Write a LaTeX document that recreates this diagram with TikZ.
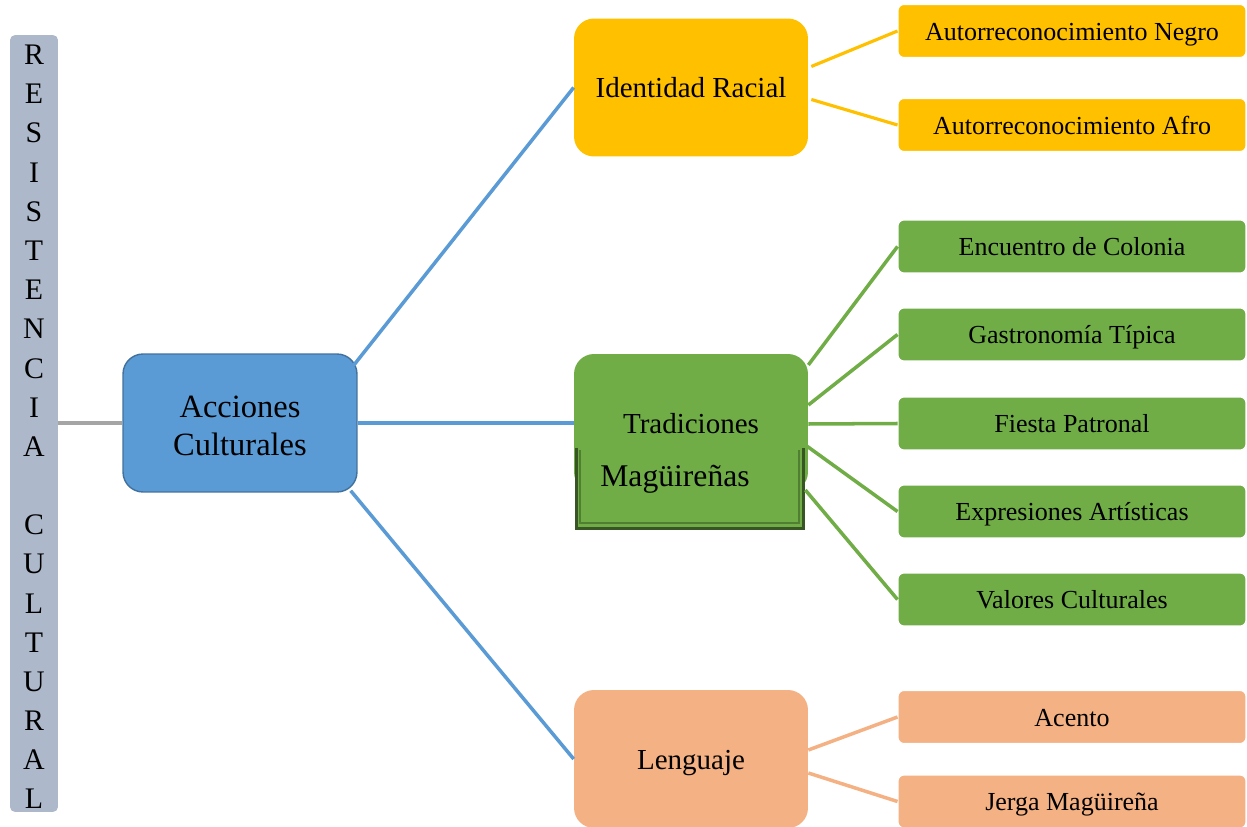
\documentclass[tikz,border=0pt]{standalone}
\usepackage{fontspec}
\setmainfont{Liberation Serif}
\usetikzlibrary{calc}
\definecolor{barcol}{HTML}{ADB9CA}
\definecolor{accblue}{HTML}{5B9BD5}
\definecolor{accblueb}{HTML}{41719C}
\definecolor{gold}{HTML}{FFC000}
\definecolor{leafgreen}{HTML}{70AD47}
\definecolor{darkgreen}{HTML}{375623}
\definecolor{midgreen}{HTML}{507E32}
\definecolor{peach}{HTML}{F4B183}
\definecolor{conngray}{HTML}{A5A5A5}
\tikzset{
  mainbox/.style={rounded corners=0.4cm, minimum width=4.68cm, minimum height=2.76cm,
    inner sep=0pt, align=center, font=\fontsize{16.5}{21}\selectfont},
  onelinetext/.style={text height=13pt, text depth=1.5pt},
  leafbox/.style={rounded corners=0.12cm, minimum width=6.96cm, minimum height=1.06cm,
    inner sep=0pt, draw=white, line width=0.6pt, font=\fontsize{14.8}{17}\selectfont,
    text height=11.5pt, text depth=1.2pt},
  conn/.style={line width=2pt},
}
\begin{document}
\begin{tikzpicture}[x=0.02cm,y=-0.02cm]
\useasboundingbox (0,0) rectangle (1247,827);
% left bar
\node[fill=barcol, rounded corners=0.1cm, minimum width=0.96cm, minimum height=15.54cm,
  inner sep=0pt] (bar) at (34,423.5) {};
\node[inner sep=0pt, align=center, font=\fontsize{17}{22.3}\selectfont] (bartext) at (34,427)
  {R\\E\\S\\I\\S\\T\\E\\N\\C\\I\\A\\\strut\\C\\U\\L\\T\\U\\R\\A\\L};
% main nodes
\node[mainbox, fill=accblue, draw=accblueb, line width=0.8pt] (acc) at (240,423) {};
\node[inner sep=0pt, align=center, font=\fontsize{18.5}{21.2}\selectfont] (acctext) at (240,426) {Acciones\\Culturales};
\node[mainbox, onelinetext, fill=gold] (ide) at (691,87.5) {Identidad Racial};
\node[mainbox, onelinetext, fill=leafgreen] (trad) at (691,423) {Tradiciones};
\node[mainbox, onelinetext, fill=peach] (len) at (691,759) {Lenguaje};
% overlay text box of Tradiciones
\node[fill=leafgreen, minimum width=4.6cm, minimum height=1.7cm, inner sep=0pt] (tbox) at (690,487.5) {};
\draw[darkgreen, line width=1.7pt] ($(tbox.north west)+(2,3)$) -- ($(tbox.south west)+(2,-2)$)
  -- ($(tbox.south east)+(-2,-2)$) -- ($(tbox.north east)+(-2,3)$);
\draw[midgreen, line width=1.3pt] ($(tbox.north west)+(5,5)$) -- ($(tbox.south west)+(5,-7)$)
  -- ($(tbox.south east)+(-6,-7)$) -- ($(tbox.north east)+(-6,5)$);
\node[inner sep=0pt, font=\fontsize{18}{21}\selectfont, text height=13pt, text depth=1.5pt] (mag) at (675,476) {Magüireñas};
% leaves
\node[leafbox, fill=gold] (y1) at (1072,31) {Autorreconocimiento Negro};
\node[leafbox, fill=gold] (y2) at (1072,125) {Autorreconocimiento Afro};
\node[leafbox, fill=leafgreen] (g1) at (1072,246.5) {Encuentro de Colonia};
\node[leafbox, fill=leafgreen] (g2) at (1072,334.5) {Gastronomía Típica};
\node[leafbox, fill=leafgreen] (g3) at (1072,423.5) {Fiesta Patronal};
\node[leafbox, fill=leafgreen] (g4) at (1072,511.5) {Expresiones Artísticas};
\node[leafbox, fill=leafgreen] (g5) at (1072,599.5) {Valores Culturales};
\node[leafbox, fill=peach] (o1) at (1072,717) {Acento};
\node[leafbox, fill=peach] (o2) at (1072,801.5) {Jerga Magüireña};
% connectors
\draw[conn, conngray] (acc.west -| bar.east) -- (acc.west);
\draw[conn, accblue] ($(acc.north east)+(-4,12)$) -- (ide.west);
\draw[conn, accblue] (acc.east) -- (trad.west);
\draw[conn, accblue] ($(acc.south east)+(-7,-2)$) -- (len.west);
\draw[conn, gold, line width=1.8pt] ($(ide.east)+(3,-21)$) -- (y1.west);
\draw[conn, gold, line width=1.8pt] ($(ide.east)+(3,12)$) -- (y2.west);
\draw[conn, leafgreen] ($(trad.east)+(0,-58)$) -- (g1.west);
\draw[conn, leafgreen] ($(trad.east)+(0,-18)$) -- (g2.west);
\draw[conn, leafgreen] ($(trad.east)+(0,1)$) -- (g3.west);
\draw[conn, leafgreen] ($(trad.east)+(-3,22)$) -- (g4.west);
\draw[conn, leafgreen] ($(trad.east)+(-3,67)$) -- (g5.west);
\draw[conn, peach] ($(len.east)+(0,-9)$) -- (o1.west);
\draw[conn, peach] ($(len.east)+(0,14)$) -- (o2.west);
\end{tikzpicture}
\end{document}
